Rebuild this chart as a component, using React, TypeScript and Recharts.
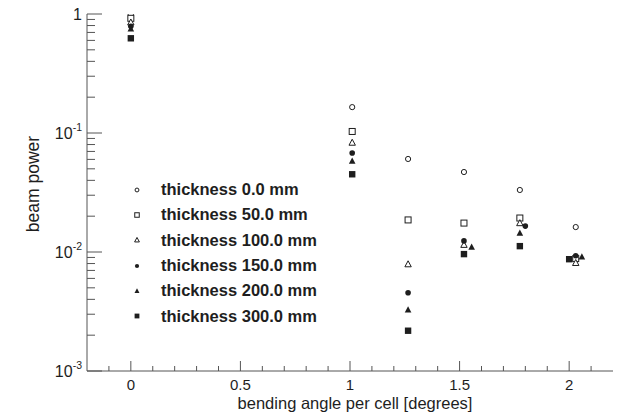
import React from 'react';
import { ScatterChart, Scatter, XAxis, YAxis, Legend, Label } from 'recharts';

// ---- data ----
const seriesNames = [
  'thickness 0.0 mm',
  'thickness 50.0 mm',
  'thickness 100.0 mm',
  'thickness 150.0 mm',
  'thickness 200.0 mm',
  'thickness 300.0 mm',
];

const angle0 = [0, 1.01, 1.265, 1.52, 1.775, 2.03];
const power0 = [0.99, 0.165, 0.0605, 0.047, 0.0332, 0.0162];

const angle50 = [0, 1.01, 1.265, 1.52, 1.775, 2.03];
const power50 = [0.92, 0.103, 0.0186, 0.0175, 0.0193, 0.0088];

const angle100 = [0, 1.01, 1.265, 1.52, 1.775, 2.03];
const power100 = [0.85, 0.083, 0.0079, 0.0115, 0.0175, 0.0081];

const angle150 = [0, 1.01, 1.265, 1.52, 1.8, 2.03];
const power150 = [0.79, 0.068, 0.00455, 0.0124, 0.0165, 0.0093];

const angle200 = [0, 1.01, 1.265, 1.555, 1.775, 2.058];
const power200 = [0.75, 0.058, 0.00326, 0.011, 0.0144, 0.0091];

const angle300 = [0, 1.01, 1.265, 1.52, 1.775, 2.0];
const power300 = [0.625, 0.045, 0.00218, 0.0096, 0.0112, 0.0087];

const xMajorTicks = [0, 0.5, 1, 1.5, 2];
const xTickLabels = ['0', '0.5', '1', '1.5', '2'];
const xMinorTicks = [-0.1, 0.1, 0.2, 0.3, 0.4, 0.6, 0.7, 0.8, 0.9, 1.1, 1.2, 1.3, 1.4, 1.6, 1.7, 1.8, 1.9, 2.1];

const yMajorTicks = [0.001, 0.01, 0.1, 1];
const yTickBase = ['10', '10', '10', '1'];
const yTickExp = ['-3', '-2', '-1', ''];
const yMinorTicks = [
  0.002, 0.003, 0.004, 0.005, 0.006, 0.007, 0.008, 0.009,
  0.02, 0.03, 0.04, 0.05, 0.06, 0.07, 0.08, 0.09,
  0.2, 0.3, 0.4, 0.5, 0.6, 0.7, 0.8, 0.9,
];

const xAxisTitle = 'bending angle per cell [degrees]';
const yAxisTitle = 'beam power';

// ---- layout ----
const WIDTH = 630;
const HEIGHT = 418;
const INK = '#1e1e1e';
const FRAME = '#555';
const FONT = '"Liberation Sans", Arial, Helvetica, sans-serif';

const toPoints = (xs: number[], ys: number[]) => xs.map((x, i) => ({ x, y: ys[i] }));

type MarkerKind = 'openCircle' | 'openSquare' | 'openTriangle' | 'circle' | 'triangle' | 'square';

const series: { name: string; kind: MarkerKind; data: { x: number; y: number }[] }[] = [
  { name: seriesNames[0], kind: 'openCircle', data: toPoints(angle0, power0) },
  { name: seriesNames[1], kind: 'openSquare', data: toPoints(angle50, power50) },
  { name: seriesNames[2], kind: 'openTriangle', data: toPoints(angle100, power100) },
  { name: seriesNames[3], kind: 'circle', data: toPoints(angle150, power150) },
  { name: seriesNames[4], kind: 'triangle', data: toPoints(angle200, power200) },
  { name: seriesNames[5], kind: 'square', data: toPoints(angle300, power300) },
];

function Marker({ kind, cx, cy, s = 1 }: { kind: MarkerKind; cx: number; cy: number; s?: number }) {
  switch (kind) {
    case 'openCircle':
      return <circle cx={cx} cy={cy} r={2.6 * s} fill="#fff" stroke={INK} strokeWidth={1} />;
    case 'openSquare':
      return <rect x={cx - 3 * s} y={cy - 3 * s} width={6 * s} height={6 * s} fill="#fff" stroke={INK} strokeWidth={1} />;
    case 'openTriangle':
      return (
        <polygon
          points={`${cx},${cy - 3.4 * s} ${cx + 3.2 * s},${cy + 2.6 * s} ${cx - 3.2 * s},${cy + 2.6 * s}`}
          fill="#fff"
          stroke={INK}
          strokeWidth={1}
        />
      );
    case 'circle':
      return <circle cx={cx} cy={cy} r={2.8 * s} fill={INK} />;
    case 'triangle':
      return (
        <polygon
          points={`${cx},${cy - 3.6 * s} ${cx + 3.3 * s},${cy + 2.6 * s} ${cx - 3.3 * s},${cy + 2.6 * s}`}
          fill={INK}
        />
      );
    case 'square':
    default:
      return <rect x={cx - 3.2 * s} y={cy - 3.2 * s} width={6.4 * s} height={6.4 * s} fill={INK} />;
  }
}

const isOnList = (list: number[], v: number) => list.findIndex((t) => Math.abs(t - v) < 1e-9);

function XTick(props: any) {
  const { x, y, payload } = props;
  const idx = isOnList(xMajorTicks, payload.value);
  const major = idx >= 0;
  return (
    <g>
      <line x1={x} x2={x} y1={y} y2={y - (major ? 10 : 5)} stroke={FRAME} strokeWidth={1} />
      {major && (
        <text x={x} y={y + 13} textAnchor="middle" dominantBaseline="central" fill={INK} fontSize={15} fontFamily={FONT}>
          {xTickLabels[idx]}
        </text>
      )}
    </g>
  );
}

function YTick(props: any) {
  const { x, y, payload } = props;
  const idx = isOnList(yMajorTicks, payload.value);
  const major = idx >= 0;
  return (
    <g>
      <line x1={x} x2={x + (major ? 15 : 8)} y1={y} y2={y} stroke={FRAME} strokeWidth={1} />
      {major && (
        <text x={x - 5} y={y + 5.5} textAnchor="end" fill={INK} fontSize={16} fontFamily={FONT}>
          <tspan>{yTickBase[idx]}</tspan>
          {yTickExp[idx] && (
            <tspan dy={-8} fontSize={10.5}>
              {yTickExp[idx]}
            </tspan>
          )}
        </text>
      )}
    </g>
  );
}

function LegendBox() {
  return (
    <div style={{ fontFamily: FONT }}>
      {series.map((s) => (
        <div key={s.name} style={{ display: 'flex', alignItems: 'center', height: 25.3 }}>
          <svg width={20} height={12} style={{ marginRight: 14 }}>
            <Marker kind={s.kind} cx={10} cy={6} s={0.75} />
          </svg>
          <span style={{ fontWeight: 700, fontSize: 16.5, color: INK, whiteSpace: 'nowrap' }}>{s.name}</span>
        </div>
      ))}
    </div>
  );
}

export default function App() {
  const xTicks = [...xMajorTicks, ...xMinorTicks].sort((a, b) => a - b);
  const yTicks = [...yMajorTicks, ...yMinorTicks].sort((a, b) => a - b);
  return (
    <div style={{ position: 'absolute', left: 0, top: 0, width: WIDTH, height: HEIGHT, background: '#fff' }}>
      <ScatterChart width={WIDTH} height={HEIGHT} margin={{ top: 14, right: 17, bottom: 0, left: 0 }}>
        <XAxis
          xAxisId="x"
          dataKey="x"
          type="number"
          domain={[-0.2, 2.2]}
          ticks={xTicks}
          interval={0}
          height={47}
          tickSize={0}
          tickMargin={0}
          axisLine={{ stroke: FRAME, strokeWidth: 1 }}
          tick={<XTick />}
          allowDataOverflow
        >
          <Label
            content={() => (
              <text x={355} y={403} textAnchor="middle" dominantBaseline="central" fill={INK} fontSize={16.5} fontFamily={FONT}>
                {xAxisTitle}
              </text>
            )}
          />
        </XAxis>
        <XAxis
          xAxisId="top"
          orientation="top"
          type="number"
          domain={[-0.2, 2.2]}
          height={0}
          tick={false}
          tickLine={false}
          axisLine={{ stroke: FRAME, strokeWidth: 1 }}
        />
        <YAxis
          yAxisId="y"
          dataKey="y"
          type="number"
          scale="log"
          domain={[0.001, 1]}
          ticks={yTicks}
          interval={0}
          width={87}
          tickSize={0}
          tickMargin={0}
          axisLine={{ stroke: FRAME, strokeWidth: 1 }}
          tick={<YTick />}
          allowDataOverflow
        >
          <Label
            content={() => (
              <text
                x={33}
                y={184}
                transform="rotate(-90 33 184)"
                textAnchor="middle"
                dominantBaseline="central"
                fill={INK}
                fontSize={17.5}
                fontFamily={FONT}
              >
                {yAxisTitle}
              </text>
            )}
          />
        </YAxis>
        <YAxis
          yAxisId="right"
          orientation="right"
          type="number"
          domain={[0, 1]}
          width={0}
          tick={false}
          tickLine={false}
          axisLine={{ stroke: FRAME, strokeWidth: 1 }}
        />
        {series.map((s) => (
          <Scatter
            key={s.name}
            name={s.name}
            xAxisId="x"
            yAxisId="y"
            data={s.data}
            isAnimationActive={false}
            shape={(p: any) => <Marker kind={s.kind} cx={p.cx} cy={p.cy} />}
          />
        ))}
        <Legend
          layout="vertical"
          align="center"
          verticalAlign="middle"
          wrapperStyle={{ left: 127, top: 177, width: 220 }}
          content={() => <LegendBox />}
        />
      </ScatterChart>
    </div>
  );
}
